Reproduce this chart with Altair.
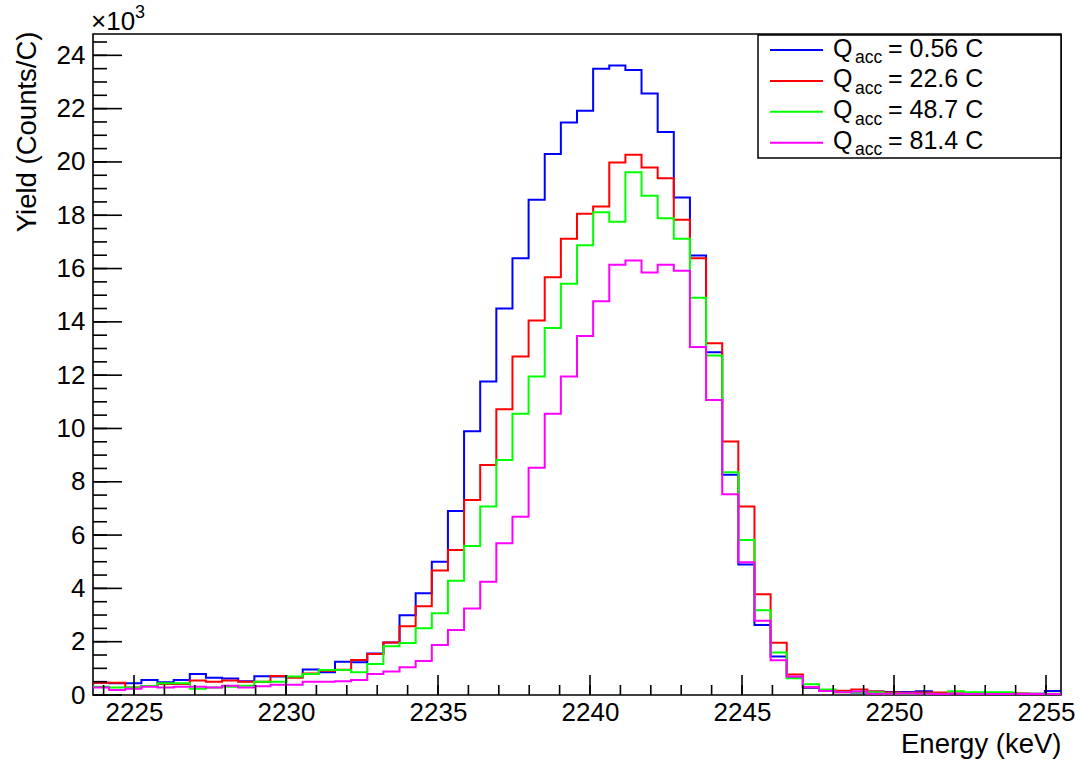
import altair as alt
import pandas as pd

FONT = "Liberation Sans"

# Histogram binning (60 bins)
x_start = 2223.651
bin_width = 0.5307
n_bins = 60

legend_rest = ["= 0.56 C", "= 22.6 C", "= 48.7 C", "= 81.4 C"]
colors = ["#0000ff", "#ff0000", "#00ff00", "#ff00ff"]

blue = [460, 440, 440, 560, 480, 560, 790, 650, 620, 520,
        700, 690, 680, 960, 850, 1250, 1230, 1560, 1970, 2990,
        3820, 5000, 6900, 9900, 11760, 14500, 16390, 18580, 20300, 21480,
        21920, 23500, 23620, 23450, 22570, 21120, 18670, 16490, 12860, 8260,
        4900, 2630, 1440, 660, 270, 160, 130, 90, 130, 110,
        110, 140, 70, 50, 60, 50, 70, 50, 50, 150]
red = [460, 460, 280, 340, 410, 410, 540, 500, 540, 500,
       500, 710, 650, 810, 910, 950, 1310, 1540, 1970, 2580,
       3330, 4670, 5440, 7320, 8630, 10720, 12700, 14050, 15670, 17120,
       18060, 18330, 19980, 20270, 19790, 19390, 17830, 16390, 13200, 9510,
       7070, 3780, 1960, 770, 290, 190, 160, 210, 130, 90,
       80, 90, 90, 60, 50, 60, 50, 60, 40, 40]
green = [310, 280, 280, 340, 440, 440, 230, 280, 310, 350,
         500, 500, 690, 790, 940, 940, 850, 1160, 1830, 1950,
         2500, 3070, 4290, 5590, 7070, 8820, 10550, 11950, 13770, 15430,
         16870, 18110, 17760, 19610, 18730, 17890, 17120, 14900, 12740, 8360,
         5820, 3180, 1590, 630, 400, 210, 100, 100, 100, 60,
         50, 50, 50, 140, 100, 100, 100, 50, 50, 50]
magenta = [280, 190, 230, 310, 280, 310, 310, 280, 350, 280,
           330, 380, 380, 500, 500, 520, 560, 790, 880, 1040,
           1280, 1880, 2440, 3250, 4250, 5690, 6690, 8530, 10550, 11950,
           13470, 14770, 16140, 16300, 15850, 16140, 15920, 13060, 11070, 7530,
           4980, 2790, 1300, 690, 300, 150, 100, 130, 50, 50,
           60, 50, 40, 50, 40, 40, 40, 40, 40, 40]
all_series = [blue, red, green, magenta]

x_major = [2225, 2230, 2235, 2240, 2245, 2250, 2255]
x_minor = list(range(2224, 2256))
y_major = list(range(0, 24001, 2000))
y_minor = list(range(0, 24801, 500))
y_max = 24800

W, H = 968, 661

xscale = alt.Scale(domain=[x_start, x_start + n_bins * bin_width], nice=False, zero=False)
yscale = alt.Scale(domain=[0, y_max], nice=False, zero=False)


def hist_df(vals):
    edges = [x_start + i * bin_width for i in range(len(vals) + 1)]
    ys = list(vals) + [vals[-1]]
    return pd.DataFrame({"energy": edges, "yield": ys})


x_axis = alt.Axis(values=x_major, format="d", ticks=False, domain=False, grid=False,
                  labelFont=FONT, labelFontSize=26, labelColor="black",
                  labelPadding=4, labelFlush=False, labelOverlap=False,
                  title="Energy (keV)", titleFont=FONT, titleFontSize=27.5,
                  titleFontWeight="normal", titleColor="black",
                  titleAnchor="end", titleAlign="right",
                  titleBaseline="alphabetic", titleY=57)
y_axis = alt.Axis(values=y_major, labelExpr="datum.value / 1000",
                  ticks=False, domain=False, grid=False,
                  labelFont=FONT, labelFontSize=26, labelColor="black",
                  labelPadding=8, labelOverlap=False,
                  title="Yield (Counts/C)", titleFont=FONT, titleFontSize=27.5,
                  titleFontWeight="normal", titleColor="black",
                  titleAnchor="end", titleAlign="right", titleAngle=270,
                  titleBaseline="alphabetic", titleX=-58, titleY=-3)

X = lambda: alt.X("energy:Q", scale=xscale, axis=x_axis)
Y = lambda: alt.Y("yield:Q", scale=yscale, axis=y_axis)

layers = []
for vals, col in zip(all_series, colors):
    layers.append(
        alt.Chart(hist_df(vals)).mark_line(interpolate="step-after", color=col, strokeWidth=2).encode(
            x=X(), y=Y())
    )

# axis ticks (ROOT style, pointing inward)
tick_col = "black"
layers.append(alt.Chart(pd.DataFrame({"energy": x_major})).mark_rule(color=tick_col, strokeWidth=1.6).encode(
    x=X(), y=alt.value(H), y2=alt.value(H - 20)))
layers.append(alt.Chart(pd.DataFrame({"energy": x_minor})).mark_rule(color=tick_col, strokeWidth=1.6).encode(
    x=X(), y=alt.value(H), y2=alt.value(H - 10)))
layers.append(alt.Chart(pd.DataFrame({"yield": y_major})).mark_rule(color=tick_col, strokeWidth=1.6).encode(
    y=Y(), x=alt.value(0), x2=alt.value(29)))
layers.append(alt.Chart(pd.DataFrame({"yield": y_minor})).mark_rule(color=tick_col, strokeWidth=1.6).encode(
    y=Y(), x=alt.value(0), x2=alt.value(14)))

# exponent label
layers.append(alt.Chart(pd.DataFrame({"t": ["\u00d710"]})).mark_text(
    font=FONT, fontSize=26, align="left", baseline="alphabetic", color="black").encode(
    text="t:N", x=alt.value(-2), y=alt.value(-4)))
layers.append(alt.Chart(pd.DataFrame({"t": ["3"]})).mark_text(
    font=FONT, fontSize=18, align="left", baseline="alphabetic", color="black").encode(
    text="t:N", x=alt.value(42), y=alt.value(-16)))

# legend box
layers.append(alt.Chart(pd.DataFrame({"a": [0]})).mark_rect(
    fill="white", stroke="black", strokeWidth=1.5).encode(
    x=alt.value(665), x2=alt.value(W), y=alt.value(1), y2=alt.value(124)))

row_gap = 30.9
for k, (rest, col) in enumerate(zip(legend_rest, colors)):
    ly = 16 + row_gap * k
    layers.append(alt.Chart(pd.DataFrame({"a": [0]})).mark_rule(color=col, strokeWidth=2).encode(
        x=alt.value(677), x2=alt.value(730), y=alt.value(ly)))
    layers.append(alt.Chart(pd.DataFrame({"t": ["Q"]})).mark_text(
        font=FONT, fontSize=25, align="left", baseline="alphabetic", color="black").encode(
        text="t:N", x=alt.value(740), y=alt.value(ly + 6.5)))
    layers.append(alt.Chart(pd.DataFrame({"t": ["acc"]})).mark_text(
        font=FONT, fontSize=17.5, align="left", baseline="alphabetic", color="black").encode(
        text="t:N", x=alt.value(762), y=alt.value(ly + 12.7)))
    layers.append(alt.Chart(pd.DataFrame({"t": [rest]})).mark_text(
        font=FONT, fontSize=25, align="left", baseline="alphabetic", color="black").encode(
        text="t:N", x=alt.value(795), y=alt.value(ly + 6.5)))

chart = alt.layer(*layers).properties(
    width=W, height=H,
    padding={"left": 93, "top": 34, "right": 20, "bottom": 65},
    autosize=alt.AutoSizeParams(type="none"),
    background="white",
).configure_view(stroke="black", strokeWidth=1.6)

chart.save("out.html", embed_options={"renderer": "svg", "actions": False})
